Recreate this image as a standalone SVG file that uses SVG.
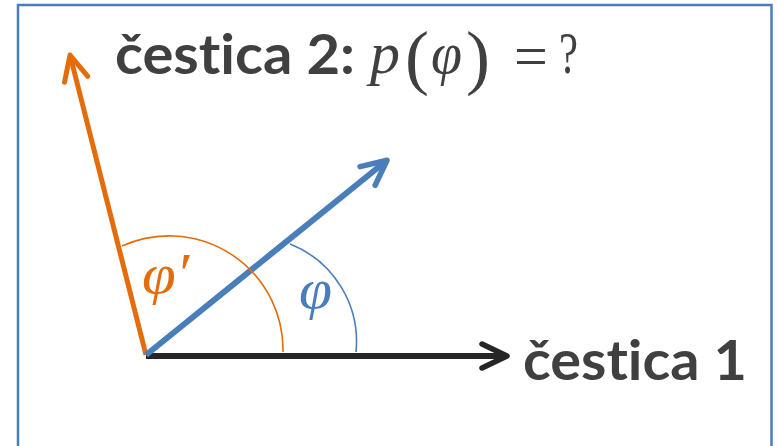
<svg xmlns="http://www.w3.org/2000/svg" width="778" height="446" viewBox="0 0 778 446">
  <style>
    .label { font-family: Lato, "Open Sans", "Liberation Sans", sans-serif; font-weight: bold; fill: #404040; font-variant-ligatures: none; font-feature-settings: "liga" 0, "clig" 0, "dlig" 0; }
    .math { font-family: "Liberation Serif", "DejaVu Serif", serif; fill: #404040; }
    .it { font-style: italic; }
    .arc { fill: none; stroke-width: 1.6; }
  </style>
  <defs>
    <marker id="headBlack" markerUnits="userSpaceOnUse" orient="auto" markerWidth="40" markerHeight="40" refX="0" refY="0" viewBox="-30 -20 40 40" overflow="visible">
      <path d="M-23,-12 L2,0 L-23,12" fill="none" stroke="#262626" stroke-width="5.5" stroke-linecap="round" stroke-linejoin="round"/>
    </marker>
    <marker id="headOrange" markerUnits="userSpaceOnUse" orient="auto" markerWidth="40" markerHeight="40" refX="0" refY="0" viewBox="-30 -20 40 40" overflow="visible">
      <path d="M-23,-12 L2,0 L-23,12" fill="none" stroke="#E46C0A" stroke-width="5" stroke-linecap="round" stroke-linejoin="round"/>
    </marker>
    <marker id="headBlue" markerUnits="userSpaceOnUse" orient="auto" markerWidth="40" markerHeight="40" refX="0" refY="0" viewBox="-30 -20 40 40" overflow="visible">
      <path d="M-23,-12 L2,0 L-23,12" fill="none" stroke="#4A7EBB" stroke-width="5.5" stroke-linecap="round" stroke-linejoin="round"/>
    </marker>
  </defs>

  <rect x="0" y="0" width="778" height="446" fill="#ffffff"/>
  <rect id="frame" x="18" y="5" width="753.5" height="480" fill="none" stroke="#4A7EBB" stroke-width="2.5"/>

  <g id="connectors">
    <line x1="146" y1="356" x2="505" y2="356" stroke="#262626" stroke-width="6" marker-end="url(#headBlack)"/>
    <line x1="146" y1="355" x2="70.5" y2="57" stroke="#E46C0A" stroke-width="5" marker-end="url(#headOrange)"/>
    <line x1="146" y1="355" x2="385.5" y2="161.5" stroke="#4A7EBB" stroke-width="6" marker-end="url(#headBlue)"/>
    <path class="arc" d="M122,246 A114,114 0 0 1 283,352" stroke="#E46C0A"/>
    <path class="arc" d="M290,244 A105,105 0 0 1 356,352" stroke="#4A7EBB"/>
  </g>

  <g id="particle2">
    <text class="label" x="115" y="74" font-size="55" textLength="240" lengthAdjust="spacingAndGlyphs">čestica 2:</text>
    <g class="math">
      <text class="it" x="370" y="73" font-size="60">p</text>
      <text x="405" y="81" font-size="72">(</text>
      <text class="it" x="431" y="73" font-size="60" textLength="31" lengthAdjust="spacingAndGlyphs">φ</text>
      <text x="466" y="81" font-size="72">)</text>
      <text x="514" y="76" font-size="60">=</text>
      <text x="559" y="73" font-size="60" textLength="19" lengthAdjust="spacingAndGlyphs">?</text>
    </g>
  </g>

  <g id="particle1">
    <text class="label" x="523" y="380" font-size="55" textLength="224" lengthAdjust="spacingAndGlyphs">čestica 1</text>
  </g>

  <g id="angle-phi-prime">
    <text class="math it" x="142" y="293" font-size="56" textLength="47" lengthAdjust="spacingAndGlyphs" style="fill:#E46C0A">φ′</text>
  </g>
  <g id="angle-phi">
    <text class="math it" x="299" y="308" font-size="56" textLength="33" lengthAdjust="spacingAndGlyphs" style="fill:#4A7EBB">φ</text>
  </g>
</svg>
